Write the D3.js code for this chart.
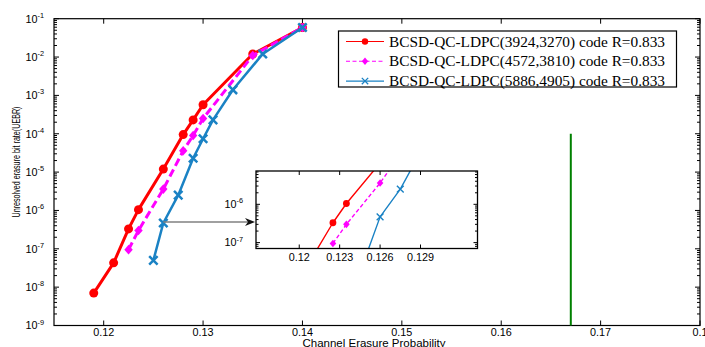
<!DOCTYPE html>
<html><head><meta charset="utf-8">
<script src="https://cdn.jsdelivr.net/npm/d3@7"></script>
<style>body{margin:0;background:#fff}svg{display:block}</style>
</head><body><svg id="c" width="705" height="347"></svg>
<script>
// ---- data ----
const seriesNames = ["BCSD-QC-LDPC(3924,3270) code R=0.833","BCSD-QC-LDPC(4572,3810) code R=0.833","BCSD-QC-LDPC(5886,4905) code R=0.833"];
const xRed  = [0.119,0.121,0.1225,0.1235,0.126,0.128,0.129,0.130,0.135,0.140];
const yRed  = [7e-9,4.3e-8,3.3e-7,1.05e-6,1.2e-5,9.5e-5,2.3e-4,5.7e-4,1.2e-2,5.9e-2];
const xMag  = [0.1225,0.1235,0.126,0.128,0.129,0.130,0.135,0.140];
const yMag  = [9.5e-8,3e-7,3.6e-6,3.6e-5,9e-5,2.5e-4,1.1e-2,5.9e-2];
const xBlue = [0.125,0.126,0.1275,0.129,0.130,0.131,0.133,0.136,0.140];
const yBlue = [5e-8,4.7e-7,2.5e-6,2.3e-5,7.4e-5,2.3e-4,1.4e-3,1.2e-2,5.9e-2];
const capX = [0.167,0.167];
const capY = [1e-4,1e-9];
const xTicks = [0.12,0.13,0.14,0.15,0.16,0.17,0.18];
const xTickLabels = ["0.12","0.13","0.14","0.15","0.16","0.17","0.1"];
const yExps = [-9,-8,-7,-6,-5,-4,-3,-2,-1];
const insetXTicks = [0.12,0.123,0.126,0.129];
const insetXTickLabels = ["0.12","0.123","0.126","0.129"];
const insetYExps = [-7,-6];

const svg = d3.select("#c");
const L=54, R=700, T=18.7, B=325.5;
const x = d3.scaleLinear().domain([0.115,0.18]).range([L,R]);
const y = d3.scaleLog().domain([1e-9,1e-1]).range([B,T]);

const colors = ["#ff0000","#ff00ff","#1a82c4"];
const sets = [[xRed,yRed],[xMag,yMag],[xBlue,yBlue]];
const sans = "'Liberation Sans', Arial, sans-serif";

function minorTicks(scale){
  const out=[];
  const d=scale.domain();
  for(let e=Math.floor(Math.log10(d[0]))-1;e<=Math.ceil(Math.log10(d[1]));e++){
    for(let m=1;m<10;m++){const v=m*Math.pow(10,e); if(v>=d[0]*0.999&&v<=d[1]*1.001) out.push({v,major:m===1});}
  }
  return out;
}

function drawAxes(g, xs, ys, xt, xtl, ye, opt){
  const [x0,x1]=xs.range(), [y0,y1]=ys.range();
  g.append("rect").attr("x",x0).attr("y",y1).attr("width",x1-x0).attr("height",y0-y1)
   .attr("fill","none").attr("stroke","#000").attr("stroke-width",opt.bw);
  xt.forEach((t,i)=>{
    const px=xs(t);
    g.append("line").attr("x1",px).attr("x2",px).attr("y1",y0).attr("y2",y0-opt.maj).attr("stroke","#000").attr("stroke-width",1);
    g.append("line").attr("x1",px).attr("x2",px).attr("y1",y1).attr("y2",y1+opt.maj).attr("stroke","#000").attr("stroke-width",1);
    g.append("text").attr("x",px).attr("y",y0+opt.xlo).attr("text-anchor","middle")
     .attr("font-family",sans).attr("font-size",opt.fs).text(xtl[i]);
  });
  minorTicks(ys).forEach(t=>{
    const py=ys(t.v), len=t.major?opt.maj:opt.min;
    g.append("line").attr("x1",x0).attr("x2",x0+len).attr("y1",py).attr("y2",py).attr("stroke","#000").attr("stroke-width",1);
    g.append("line").attr("x1",x1).attr("x2",x1-len).attr("y1",py).attr("y2",py).attr("stroke","#000").attr("stroke-width",1);
  });
  ye.forEach(e=>{
    const py=ys(Math.pow(10,e));
    const t=g.append("text").attr("x",x0-opt.ylo).attr("y",py+opt.fs*0.36).attr("text-anchor","end")
      .attr("font-family",sans).attr("font-size",opt.fs);
    t.append("tspan").text("10");
    t.append("tspan").attr("dy",-opt.fs*0.45).attr("font-size",opt.fs*0.68).text(String(e));
  });
}

// main axes
const gm = svg.append("g");
drawAxes(gm, x, y, xTicks, xTickLabels, yExps, {bw:1.2,maj:5,min:3,fs:10.8,xlo:10,ylo:10});

// axis titles
svg.append("text").attr("x",374).attr("y",347).attr("text-anchor","middle")
  .attr("font-family",sans).attr("font-size",11).attr("textLength",143).attr("lengthAdjust","spacingAndGlyphs")
  .text("Channel Erasure Probability");
svg.append("text").attr("transform","translate(20,162) rotate(-90)").attr("text-anchor","middle")
  .attr("font-family",sans).attr("font-size",10.5).attr("textLength",111).attr("lengthAdjust","spacingAndGlyphs")
  .text("Unresolved erasure bit rate(UEBR)");

// capacity line
svg.append("line").attr("x1",x(capX[0])).attr("x2",x(capX[1])).attr("y1",y(capY[0])).attr("y2",y(capY[1]))
  .attr("stroke","#008000").attr("stroke-width",2);

function marker(g, kind, cx, cy, s, color, sw){
  if(kind===0) g.append("circle").attr("cx",cx).attr("cy",cy).attr("r",s).attr("fill",color);
  else if(kind===1) g.append("path").attr("d",`M${cx},${cy-s*1.15}L${cx+s},${cy}L${cx},${cy+s*1.15}L${cx-s},${cy}Z`).attr("fill",color);
  else g.append("path").attr("d",`M${cx-s},${cy-s}L${cx+s},${cy+s}M${cx-s},${cy+s}L${cx+s},${cy-s}`).attr("stroke",color).attr("stroke-width",sw).attr("fill","none");
}

function drawSeries(g, xs, ys, st){
  sets.forEach(([xa,ya],k)=>{
    const pts = xa.map((v,i)=>[xs(v),ys(ya[i])]);
    g.append("path").attr("d",d3.line()(pts)).attr("fill","none").attr("stroke",colors[k])
      .attr("stroke-width",st.lw[k]).attr("stroke-dasharray",k===1?st.dash:null).attr("stroke-linejoin","round");
    pts.forEach(p=>marker(g,k,p[0],p[1],st.ms[k],colors[k],st.lw[2]));
  });
}
drawSeries(svg.append("g"), x, y, {lw:[3,3,2.5], ms:[4.5,4.2,4.2], dash:"8,4"});

// inset
const IL=256, IR=477.5, IT=171, IB=248.5;
const xi = d3.scaleLinear().domain([0.11679,0.13323]).range([IL,IR]);
const yi = d3.scaleLog().domain([Math.pow(10,-7.154),Math.pow(10,-5.13)]).range([IB,IT]);
const gi = svg.append("g");
gi.append("rect").attr("x",IL).attr("y",IT).attr("width",IR-IL).attr("height",IB-IT).attr("fill","#fff");
svg.append("clipPath").attr("id","ic").append("rect").attr("x",IL).attr("y",IT).attr("width",IR-IL).attr("height",IB-IT);
drawSeries(gi.append("g").attr("clip-path","url(#ic)"), xi, yi, {lw:[1.4,1.4,1.4], ms:[3.4,3.3,3.4], dash:"4,2.5"});
drawAxes(gi, xi, yi, insetXTicks, insetXTickLabels, insetYExps, {bw:1.3,maj:4,min:2.5,fs:10.8,xlo:12,ylo:13});

// arrow
const ay = y(yBlue[1]) - 1;
svg.append("line").attr("x1",x(xBlue[1])).attr("x2",IL-8).attr("y1",ay).attr("y2",ay).attr("stroke","#808080").attr("stroke-width",1.6);
svg.append("path").attr("d",`M${IL-1},${ay}L${IL-11},${ay-4}L${IL-8},${ay}L${IL-11},${ay+4}Z`).attr("fill","#111");

// legend
const lg = svg.append("g");
lg.append("rect").attr("x",338.5).attr("y",31).attr("width",338).attr("height",56).attr("fill","#fff").attr("stroke","#000").attr("stroke-width",1.2);
seriesNames.forEach((n,k)=>{
  const ry = 41.5 + k*19.8;
  lg.append("line").attr("x1",346).attr("x2",384).attr("y1",ry).attr("y2",ry).attr("stroke",colors[k]).attr("stroke-width",1.1)
    .attr("stroke-dasharray",k===1?"4,2.5":null);
  marker(lg,k,365,ry,3.2,colors[k],1.3);
  lg.append("text").attr("x",389).attr("y",ry+5).attr("font-family","'Liberation Serif','Times New Roman',serif")
    .attr("font-size",15).attr("textLength",276).attr("lengthAdjust","spacingAndGlyphs").text(n);
});
</script></body></html>
